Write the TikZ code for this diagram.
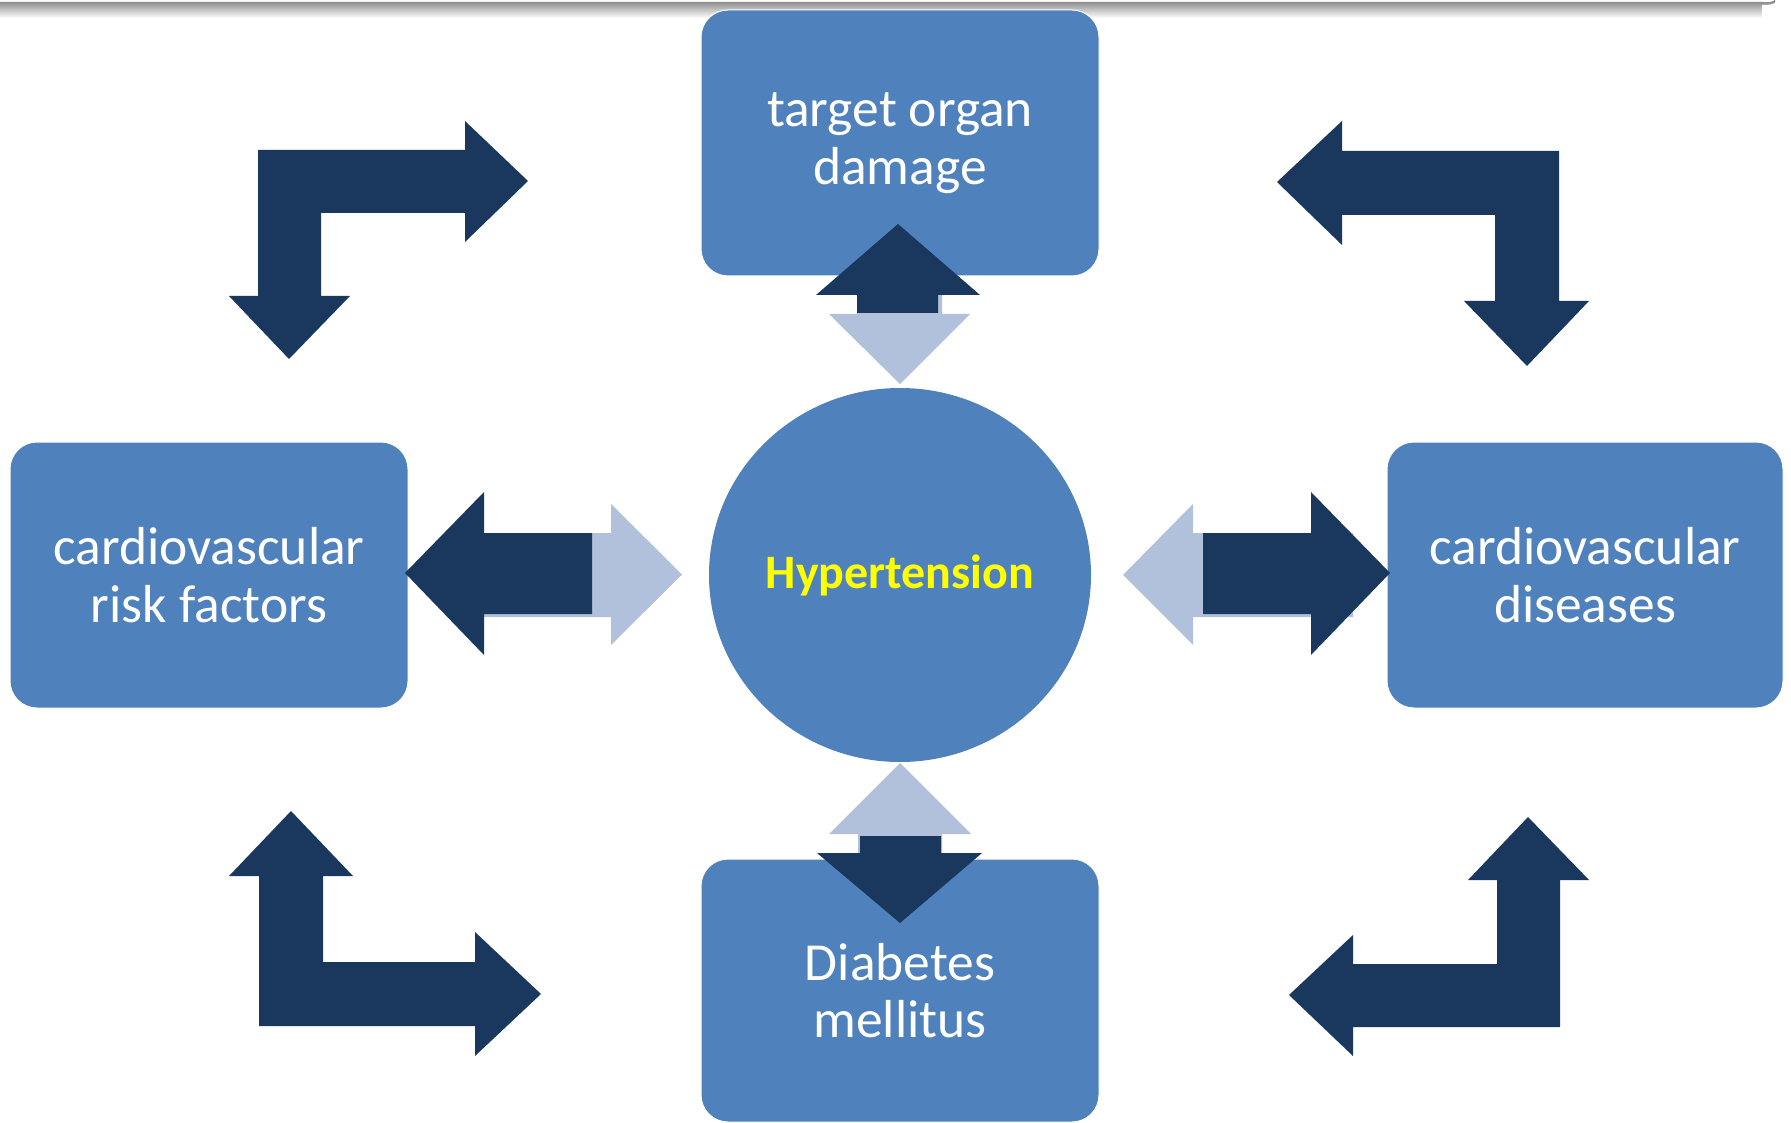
\documentclass[tikz,border=0pt]{standalone}
\usepackage{fontspec}
\setmainfont{Carlito}
\usetikzlibrary{shapes.geometric}
\definecolor{boxblue}{HTML}{4F81BD}
\definecolor{darkarrow}{HTML}{1A375E}
\definecolor{lightarrow}{HTML}{B1C1DC}
\definecolor{hyperyellow}{HTML}{FFFF00}
\tikzset{
  topicbox/.style={rectangle, rounded corners=27pt, fill=boxblue, draw=white, line width=1pt,
    inner sep=0pt, align=center, text=white, font=\fontsize{53.5}{57.5}\selectfont},
  darkshape/.style={fill=darkarrow, draw=none},
  lightshape/.style={fill=lightarrow, draw=none},
}
\begin{document}
\begin{tikzpicture}[x=1pt,y=-1pt]
\useasboundingbox (0,0) rectangle (1791,1123);
\fill[white] (0,0) rectangle (1791,1123);
% top shadow edge
\shade[top color=black!55, bottom color=white] (0,2) -- (1762,2) to[out=0,in=-90] (1775,-2) -- (1775,18) -- (0,18) -- cycle;
\fill[white] (1762,5) to[out=0,in=-90] (1778,-2) -- (1791,-2) -- (1791,20) -- (1762,20) -- cycle;

% boxes
\node[topicbox, minimum width=398pt, minimum height=266pt] (tod) at (900,143) {target organ\\damage};
\node[topicbox, minimum width=398pt, minimum height=266pt] (crf) at (209,575) {cardiovascular\\risk factors};
\node[topicbox, minimum width=396pt, minimum height=266pt] (cvd) at (1585,575) {cardiovascular\\diseases};
\node[topicbox, minimum width=398pt, minimum height=263pt] (dm) at (900,990.5) {Diabetes\\mellitus};
\node[ellipse, fill=boxblue, minimum width=382pt, minimum height=374pt, inner sep=0pt,
  text=hyperyellow, font=\fontsize{48}{52}\selectfont\bfseries] (ht) at (900,575) {Hypertension};

% top pair
\fill[lightshape] (857,290) -- (942,290) -- (942,314) -- (970,314) -- (900,384) -- (829,314) -- (857,314) -- cycle;
\fill[darkshape] (898,224) -- (980,295) -- (938,295) -- (938,313) -- (857,313) -- (857,295) -- (816,295) -- cycle;
% bottom pair
\fill[lightshape] (900,763) -- (971,834) -- (942,834) -- (942,855) -- (858,855) -- (858,834) -- (829,834) -- cycle;
\fill[darkshape] (860,836) -- (941,836) -- (941,853) -- (982,853) -- (900,923) -- (817,853) -- (860,853) -- cycle;
% left pair
\fill[lightshape] (480,533) -- (611,533) -- (611,504) -- (682,574.5) -- (611,645) -- (611,617) -- (480,617) -- cycle;
\fill[darkshape] (405,573) -- (484,492) -- (484,533) -- (592,533) -- (592,614) -- (484,614) -- (484,655) -- cycle;
% right pair
\fill[lightshape] (1123,575) -- (1193,504) -- (1193,533) -- (1353,533) -- (1353,617) -- (1193,617) -- (1193,645) -- cycle;
\fill[darkshape] (1203,533) -- (1311,533) -- (1311,492) -- (1390,573) -- (1311,655) -- (1311,614) -- (1203,614) -- cycle;

% corner arrows
\fill[darkshape] (258,150) -- (465,150) -- (465,121) -- (528,181) -- (465,242) -- (465,213) -- (321,213) -- (321,296) -- (350,296) -- (289,359) -- (229,296) -- (258,296) -- cycle;
\fill[darkshape] (1559,151) -- (1342,151) -- (1342,121) -- (1277,182) -- (1342,245) -- (1342,215) -- (1495,215) -- (1495,301) -- (1464,301) -- (1527,366) -- (1589,301) -- (1559,301) -- cycle;
\fill[darkshape] (259,1026) -- (475,1026) -- (475,1056) -- (541,994) -- (475,932) -- (475,962) -- (323,962) -- (323,876) -- (353,876) -- (291,811) -- (229,876) -- (259,876) -- cycle;
\fill[darkshape] (1560,1027) -- (1353,1027) -- (1353,1056) -- (1289,995) -- (1353,935) -- (1353,964) -- (1497,964) -- (1497,880) -- (1468,880) -- (1528,817) -- (1589,880) -- (1560,880) -- cycle;
\end{tikzpicture}
\end{document}
